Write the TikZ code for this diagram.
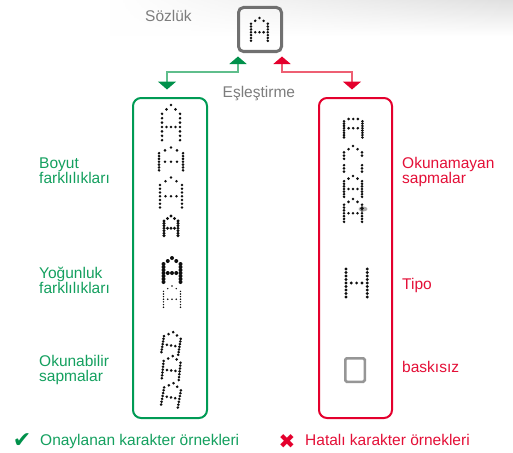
\documentclass[tikz,border=0pt]{standalone}
\usepackage{fontspec}
\setmainfont{Liberation Sans}
\newfontfamily\symfont{DejaVu Sans}
\usetikzlibrary{arrows.meta,fadings}
\definecolor{gtext}{RGB}{20,160,95}
\definecolor{gbox}{RGB}{0,155,85}
\definecolor{gtip}{RGB}{0,145,75}
\definecolor{gline}{RGB}{95,190,140}
\definecolor{rtext}{RGB}{228,15,55}
\definecolor{rbox}{RGB}{228,0,45}
\definecolor{rtip}{RGB}{228,0,45}
\definecolor{rline}{RGB}{238,95,115}
\definecolor{greytext}{RGB}{125,125,125}
\definecolor{greybox}{RGB}{112,112,112}
\definecolor{blankbox}{RGB}{150,150,150}
\definecolor{dotc}{RGB}{15,15,15}
% dot patterns (col/row)
\def\Apat{2/0,1/1,3/1,0/2,4/2,0/3,4/3,0/4,4/4,0/5,1/5,2/5,3/5,4/5,0/6,4/6,0/7,4/7,0/8,4/8}
\def\Fpat{1/0,2/0,3/0,0/1,4/1,0/2,4/2,0/3,4/3,0/4,1/4,2/4,3/4,4/4,0/5,4/5,0/6,4/6,0/7,4/7,0/8,4/8}
\def\Bpat{2/0,1/1,3/1,0/2,4/2,0/3,4/3,0/4,4/6,0/6,0/7,4/7,0/8,4/8}
\def\Hpat{0/0,4/0,0/1,4/1,0/2,4/2,0/3,4/3,0/4,1/4,2/4,3/4,4/4,0/5,4/5,0/6,4/6,0/7,4/7,0/8,4/8}
% \dotchar{x0}{y0}{dx}{dy}{radius}{rotation}{pattern macro}
\newcommand\dotchar[7]{%
  \begin{scope}[rotate around={#6:({#1+2*#3},{#2+4*#4})}]
    \foreach \cc/\rr in #7 {\fill[dotc] ({#1+\cc*#3},{#2+\rr*#4}) circle[radius=#5];}
  \end{scope}}
\tikzset{
  lab/.style={font=\fontsize{15.5}{15}\selectfont, inner sep=0pt, align=left, anchor=north west},
  glab/.style={lab, text=gtext},
  rlab/.style={lab, text=rtext},
  legtext/.style={font=\fontsize{15.5}{15}\selectfont, inner sep=0pt, anchor=base west},
  colbox/.style={line width=2pt, rounded corners=8pt, minimum width=74pt, minimum height=320pt, inner sep=0pt},
}
\begin{document}
\begin{tikzpicture}[x=1pt,y=-1pt]
\useasboundingbox (0,0) rectangle (513,452);
\fill[white] (0,0) rectangle (513,452);
% faint top shading
\shade[top color=black!12, bottom color=white, path fading=west] (110,0) rectangle (513,36);

% dictionary box
\node[draw=greybox, line width=3pt, rounded corners=5pt, minimum width=43pt, minimum height=44pt, inner sep=0pt] (top) at (260,29.5) {};
\dotchar{251}{18}{4.2}{2.85}{1.4}{0}{\Apat}
\node[lab, text=greytext, anchor=base west] (sozluk) at (145,22) {Sözlük};

% matching label
\node[lab, text=greytext, anchor=base west] (esles) at (222.5,97) {Eşleştirme};

% boxes
\node[draw=gbox, colbox] (gb) at (170,258) {};
\node[draw=rbox, colbox, minimum width=73pt] (rb) at (355.5,258) {};

% connectors
\coordinate (gA) at (238,56.5);
\coordinate (gB) at (167,89.5);
\coordinate (rA) at (282,56.5);
\coordinate (rB) at (352,89.5);
\draw[gline, line width=2pt, {Triangle[width=17pt,length=7.5pt,color=gtip]}-{Triangle[width=18pt,length=8pt,color=gtip]}]
  (gA) -- ++(0,15.5) -| (gB);
\draw[rline, line width=2pt, {Triangle[width=17pt,length=7.5pt,color=rtip]}-{Triangle[width=18pt,length=8pt,color=rtip]}]
  (rA) -- ++(0,15.5) -| (rB);

% accepted samples
\dotchar{162}{105}{4.5}{4.4}{1.45}{0}{\Apat}
\dotchar{159}{147.5}{6}{2.85}{1.45}{0}{\Apat}
\dotchar{160}{177.5}{5.5}{3.75}{1.45}{0}{\Apat}
\dotchar{164}{216}{3.5}{2.45}{1.65}{0}{\Apat}
\dotchar{163.5}{258}{4.25}{3.0}{2.0}{0}{\Apat}
\dotchar{163.5}{286}{4.25}{2.65}{0.8}{0}{\Apat}
\dotchar{163}{332}{4.25}{2.7}{1.45}{-9}{\Apat}
\dotchar{163}{356}{4.25}{2.9}{1.45}{-6}{\Apat}
\dotchar{163}{383}{4.25}{2.9}{1.45}{-10}{\Apat}

% rejected samples
\dotchar{344}{119}{4.6}{2.3}{1.45}{0}{\Fpat}
\dotchar{344}{146}{4.5}{3.2}{1.45}{0}{\Bpat}
\dotchar{344}{176}{4.5}{2.6}{1.45}{0}{\Apat}
\dotchar{344}{199}{4.5}{2.85}{1.45}{0}{\Apat}
\fill[black!45, opacity=0.7] (363,209) ellipse[x radius=4.5, y radius=2.5];
\fill[dotc] (362,208.5) circle[radius=1.8];
\dotchar{346}{269}{5.3}{3.5}{1.6}{0}{\Hpat}
\node[draw=blankbox, line width=2.5pt, rounded corners=1.5pt, minimum width=19.5pt, minimum height=23.5pt, inner sep=0pt] (blank) at (355,370) {};

% left labels
\node[glab] (l1) at (39,157.2) {Boyut\\farklılıkları};
\node[glab] (l2) at (39,267.2) {Yoğunluk\\farklılıkları};
\node[glab] (l3) at (39,355.2) {Okunabilir\\sapmalar};
% right labels
\node[rlab] (r1) at (402,157.2) {Okunamayan\\sapmalar};
\node[rlab, anchor=base west] (r2) at (402,289.3) {Tipo};
\node[rlab, anchor=base west] (r3) at (402,372.7) {baskısız};

% legend
\node[text=gtip, font=\symfont\fontsize{22}{22}\selectfont, inner sep=0pt] (chk) at (22,440.5) {✔};
\node[legtext, text=gtext] (leg1) at (40,445) {Onaylanan karakter örnekleri};
\node[text=rtip, font=\symfont\fontsize{20}{20}\selectfont, inner sep=0pt] (crs) at (287,441.5) {✖};
\node[legtext, text=rtext] (leg2) at (305,445) {Hatalı karakter örnekleri};
\end{tikzpicture}
\end{document}
